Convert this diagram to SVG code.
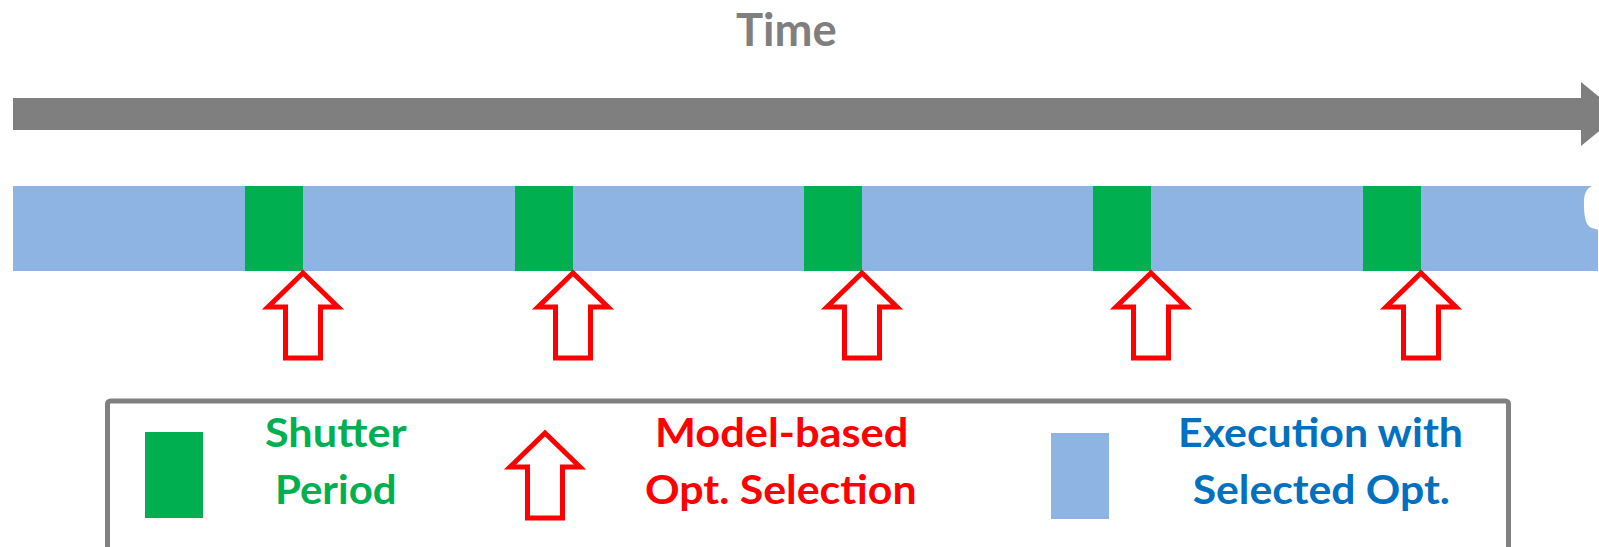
<svg xmlns="http://www.w3.org/2000/svg" width="1599" height="547" viewBox="0 0 1599 547">
  <style>
    .lbl { font-family: Lato, "Liberation Sans", Arial, sans-serif; font-weight: bold; text-anchor: middle; }
    .green { fill: #00B050; }
    .blue { fill: #8EB4E3; }
    .optarrow { fill: #FFFFFF; stroke: #FF0000; stroke-width: 5; stroke-linejoin: miter; }
  </style>
  <defs>
    <path id="upArrow" d="M0,0 L35,34 L17.5,34 L17.5,85 L-17.5,85 L-17.5,34 L-35,34 Z"/>
  </defs>
  <rect width="1599" height="547" fill="#FFFFFF"/>

  <g id="time-axis">
    <text class="lbl" x="786.3" y="45.7" font-size="45" fill="#7F7F7F" textLength="100.7" lengthAdjust="spacingAndGlyphs">Time</text>
    <path d="M13,98 L1581,98 L1581,82 L1620,114 L1581,146 L1581,130 L13,130 Z" fill="#7F7F7F"/>
  </g>

  <g id="timeline">
    <rect class="blue" x="13" y="186" width="1585" height="85" rx="0"/>
    <path d="M1599,186 L1592,186 Q1583,190 1584,205 Q1584,226 1592,228 L1599,230 Z" fill="#FFFFFF"/>
    <g id="shutters">
      <rect class="green" x="245" y="186" width="58" height="85"/>
      <rect class="green" x="515" y="186" width="58" height="85"/>
      <rect class="green" x="804" y="186" width="58" height="85"/>
      <rect class="green" x="1093" y="186" width="58" height="85"/>
      <rect class="green" x="1363" y="186" width="58" height="85"/>
    </g>
  </g>

  <g id="connectors">
    <use href="#upArrow" class="optarrow" x="303" y="273"/>
    <use href="#upArrow" class="optarrow" x="573" y="273"/>
    <use href="#upArrow" class="optarrow" x="862" y="273"/>
    <use href="#upArrow" class="optarrow" x="1151" y="273"/>
    <use href="#upArrow" class="optarrow" x="1421" y="273"/>
  </g>

  <g id="legend">
    <rect x="107.5" y="401" width="1401" height="200" rx="3" fill="#FFFFFF" stroke="#808080" stroke-width="5"/>
    <g id="legend-shutter">
      <rect class="green" x="145" y="432" width="58" height="86"/>
      <text class="lbl" x="335.8" y="446.7" font-size="40" fill="#00B050" textLength="141.7" lengthAdjust="spacingAndGlyphs">Shutter</text>
      <text class="lbl" x="335.8" y="504" font-size="40" fill="#00B050" textLength="121.7" lengthAdjust="spacingAndGlyphs">Period</text>
    </g>
    <g id="legend-selection">
      <use href="#upArrow" class="optarrow" x="545" y="433"/>
      <text class="lbl" x="781.7" y="446.7" font-size="40" fill="#FF0000" textLength="253.3" lengthAdjust="spacingAndGlyphs">Model-based</text>
      <text class="lbl" x="780.8" y="504" font-size="40" fill="#FF0000" textLength="271.7" lengthAdjust="spacingAndGlyphs">Opt. Selection</text>
    </g>
    <g id="legend-execution">
      <rect class="blue" x="1051" y="433" width="58" height="86"/>
      <text class="lbl" x="1320.5" y="446.7" font-size="40" fill="#0070C0" textLength="285" lengthAdjust="spacingAndGlyphs">Execution with</text>
      <text class="lbl" x="1321.3" y="504" font-size="40" fill="#0070C0" textLength="257.3" lengthAdjust="spacingAndGlyphs">Selected Opt.</text>
    </g>
  </g>
</svg>
